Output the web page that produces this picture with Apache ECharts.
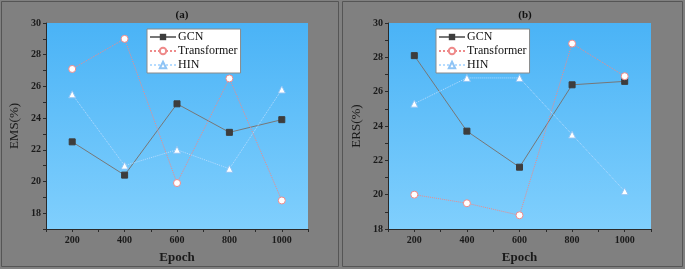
<!DOCTYPE html>
<html>
<head>
<meta charset="utf-8">
<script src="https://cdn.jsdelivr.net/npm/echarts@6/dist/echarts.min.js"></script>
<style>
  html, body { margin: 0; padding: 0; background: #808080; }
  #chart { width: 685px; height: 269px; }
</style>
</head>
<body>
<div id="chart"></div>
<script>
// epochs on the x axis
var epochs = [200, 400, 600, 800, 1000];

// (a) EMS(%)
var emsGCN = [22.5, 20.4, 24.9, 23.1, 23.9];
var emsTransformer = [27.1, 29.0, 19.9, 26.5, 18.8];
var emsHIN = [25.5, 21.0, 22.0, 20.8, 25.8];

// (b) ERS(%)
var ersGCN = [28.1, 23.7, 21.6, 26.4, 26.6];
var ersTransformer = [20.0, 19.5, 18.8, 28.8, 26.9];
var ersHIN = [25.3, 26.8, 26.8, 23.5, 20.2];

var xLabels = [200, 400, 600, 800, 1000];
var yLabels = [18, 20, 22, 24, 26, 28, 30];

var serif = '"Liberation Serif", "DejaVu Serif", serif';

function pairs(ys) {
    return epochs.map(function (e, i) { return [e, ys[i]]; });
}

var plotBg = {
    type: 'linear', x: 0, y: 0, x2: 0, y2: 1,
    colorStops: [{ offset: 0, color: '#4ab3f6' }, { offset: 1, color: '#80cffd' }]
};

function xAxisFor(idx) {
    return {
        gridIndex: idx,
        type: 'value',
        min: 100,
        max: 1100,
        interval: 100,
        name: 'Epoch',
        nameLocation: 'middle',
        nameGap: 22,
        nameTextStyle: { fontFamily: serif, fontWeight: 'bold', fontSize: 13, color: '#1a1a1a' },
        axisLine: { lineStyle: { color: '#2a2a2a', width: 1 } },
        axisTick: { show: true, length: 3, lineStyle: { color: '#2a2a2a' } },
        axisLabel: {
            fontFamily: serif, fontWeight: 'bold', fontSize: 10, color: '#1a1a1a', margin: 6,
            formatter: function (v) { return xLabels.indexOf(v) >= 0 ? String(v) : ''; }
        },
        splitLine: { show: false }
    };
}

function yAxisFor(idx, name, min) {
    return {
        gridIndex: idx,
        type: 'value',
        min: min,
        max: 30,
        interval: 1,
        name: name,
        nameLocation: 'middle',
        nameGap: 25,
        nameTextStyle: { fontFamily: serif, fontSize: 13, color: '#1a1a1a' },
        axisLine: { show: true, lineStyle: { color: '#2a2a2a', width: 1 } },
        axisTick: { show: true, length: 3, lineStyle: { color: '#2a2a2a' } },
        axisLabel: {
            fontFamily: serif, fontWeight: 'bold', fontSize: 10, color: '#1a1a1a', margin: 5,
            formatter: function (v) { return yLabels.indexOf(v) >= 0 ? String(v) : ''; }
        },
        splitLine: { show: false }
    };
}

function seriesFor(idx, gcn, tr, hin) {
    return [
        {
            name: 'GCN', type: 'line', xAxisIndex: idx, yAxisIndex: idx,
            data: pairs(gcn), symbol: 'rect', symbolSize: 6,
            lineStyle: { color: '#777777', width: 1 },
            itemStyle: { color: '#3d3d3d', borderColor: '#3d3d3d' }
        },
        {
            name: 'Transformer', type: 'line', xAxisIndex: idx, yAxisIndex: idx,
            data: pairs(tr), symbol: 'circle', symbolSize: 7,
            lineStyle: { color: '#ee8a8a', width: 1, type: 'dotted' },
            itemStyle: { color: '#ffffff', borderColor: '#ee8a8a', borderWidth: 1 }
        },
        {
            name: 'HIN', type: 'line', xAxisIndex: idx, yAxisIndex: idx,
            data: pairs(hin), symbol: 'triangle', symbolSize: 7,
            lineStyle: { color: '#b6dcff', width: 1, type: 'dotted' },
            itemStyle: { color: '#ffffff', borderColor: '#8fc4f5', borderWidth: 1 }
        }
    ];
}

function legendAt(left) {
    return {
        left: left, top: 29, orient: 'vertical',
        data: ['GCN', 'Transformer', 'HIN'],
        backgroundColor: '#ffffff', borderColor: '#8a8a8a', borderWidth: 1,
        padding: [2, 3, 2, 2], itemGap: 2, itemWidth: 26, itemHeight: 8,
        textStyle: { fontFamily: serif, fontSize: 12, color: '#111111', padding: [0, 0, 0, -3] }
    };
}

var chart = echarts.init(document.getElementById('chart'));
var option = {
    backgroundColor: '#808080',
    animation: false,
    title: [
        { text: '(a)', left: 177, top: 5, textAlign: 'center',
          textStyle: { fontFamily: serif, fontWeight: 'bold', fontSize: 11, color: '#111' } },
        { text: '(b)', left: 520, top: 5, textAlign: 'center',
          textStyle: { fontFamily: serif, fontWeight: 'bold', fontSize: 11, color: '#111' } }
    ],
    legend: [
        Object.assign(legendAt(147), { id: 'la' }),
        Object.assign(legendAt(436), { id: 'lb' })
    ],
    grid: [
        { left: 46, right: 377, top: 23, bottom: 35, show: true, backgroundColor: plotBg, borderWidth: 0 },
        { left: 388, right: 34, top: 23, bottom: 35, show: true, backgroundColor: plotBg, borderWidth: 0 }
    ],
    xAxis: [xAxisFor(0), xAxisFor(1)],
    yAxis: [yAxisFor(0, 'EMS(%)', 17), yAxisFor(1, 'ERS(%)', 18)],
    series: seriesFor(0, emsGCN, emsTransformer, emsHIN).concat(seriesFor(1, ersGCN, ersTransformer, ersHIN)),
    graphic: [
        { type: 'rect', shape: { x: 1.5, y: 1.5, width: 337, height: 265 }, silent: true,
          style: { fill: 'none', stroke: '#555555', lineWidth: 1 } },
        { type: 'rect', shape: { x: 342.5, y: 1.5, width: 340, height: 265 }, silent: true,
          style: { fill: 'none', stroke: '#555555', lineWidth: 1 } }
    ]
};
chart.setOption(option);
</script>
</body>
</html>
